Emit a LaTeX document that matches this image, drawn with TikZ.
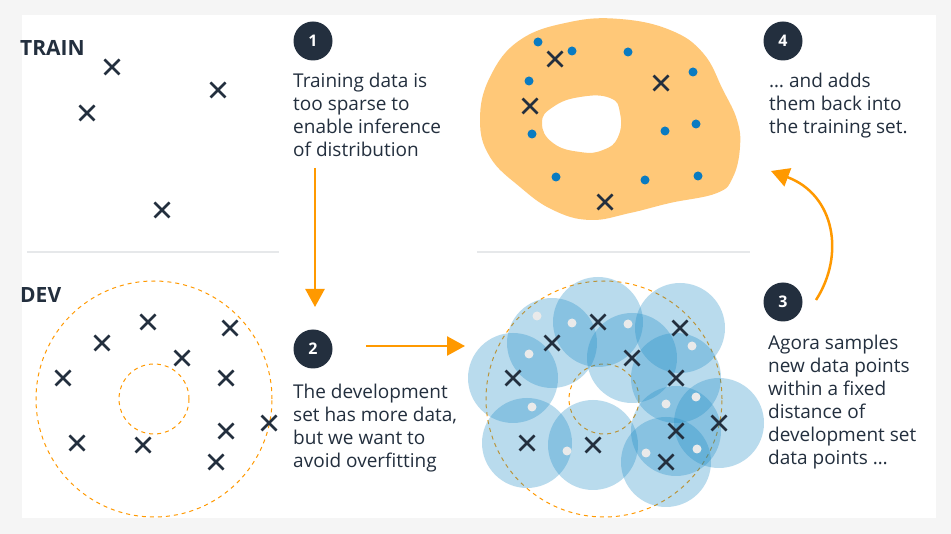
\documentclass[tikz,border=0pt]{standalone}
\usepackage{fontspec}
\setmainfont{Open Sans}
\usetikzlibrary{arrows.meta,shapes.misc}
\definecolor{navy}{HTML}{232F3E}
\definecolor{amber}{HTML}{FF9900}
\definecolor{sand}{HTML}{FFC878}
\definecolor{sky}{HTML}{1A8AC6}
\definecolor{dotblue}{HTML}{0A7BC1}
\definecolor{pale}{HTML}{EAEAEA}
\definecolor{rulegray}{HTML}{E6E8EA}
\definecolor{framegray}{HTML}{F5F5F5}

\tikzset{
  xmark/.style={cross out,draw=navy,line width=2.5pt,minimum size=12.5pt,inner sep=0pt},
  stepnum/.style={circle,fill=navy,text=white,minimum size=39pt,inner sep=0pt,
    font=\bfseries\fontsize{16}{16}\selectfont},
  blurb/.style={align=left,anchor=north west,inner sep=0pt,text=navy,
    font=\fontsize{19}{23}\selectfont},
  setname/.style={anchor=west,inner sep=0pt,text=navy,font=\bfseries\fontsize{21}{21}\selectfont},
  flow/.style={draw=amber,line width=2.5pt,-{Triangle[length=18pt,width=19pt]}},
  reach/.style={draw=amber,line width=1pt,dash pattern=on 4pt off 4pt},
  divider/.style={draw=rulegray,line width=2pt}
}

\begin{document}
\begin{tikzpicture}[x=1pt,y=-1pt]
    % frame
    \fill[framegray] (0,0) rectangle (951,534);
    \fill[white] (22,15) rectangle (936,518);
    \draw[divider] (27,252) -- (279,252);
    \draw[divider] (477,252) -- (750,252);

    % train set
    \node[setname] (train) at (20,48) {TRAIN};
    \foreach \x/\y [count=\i] in {112/67, 218/90, 87/113, 162/210}
        \node[xmark] (t\i) at (\x,\y) {};

    % dev set
    \node[setname] (dev) at (20,295) {DEV};
    \draw[reach] (154,399) circle (118pt);
    \draw[reach] (154,399) circle (35pt);
    \foreach \x/\y [count=\i] in {148/322, 230/328, 102/343, 182/358, 63/378, 226/378,
                                  269/423, 226/431, 77/443, 143/445, 216/462}
        \node[xmark] (d\i) at (\x,\y) {};

    % sampled neighbourhoods
    \draw[reach] (604,399) circle (118pt);
    \draw[reach] (604,399) circle (35pt);
    \foreach \x/\y in {148/322, 230/328, 102/343, 182/358, 63/378, 226/378,
                       269/423, 226/431, 77/443, 143/445, 216/462}
        \fill[sky,fill opacity=0.3] (\x+450,\y) circle (45pt);
    \foreach \x/\y in {537/316, 572/323, 628/324, 529/354, 692/346, 532/407,
                       666/404, 696/397, 567/451, 646/453, 697/449}
        \fill[pale] (\x,\y) circle (4.5pt);
    \foreach \x/\y [count=\i] in {148/322, 230/328, 102/343, 182/358, 63/378, 226/378,
                                  269/423, 226/431, 77/443, 143/445, 216/462}
        \node[xmark] (s\i) at (\x+450,\y) {};

    % augmented train set
    \fill[sand,even odd rule]
        plot[smooth cycle,tension=0.7] coordinates {(480,120) (490,77) (520,40) (570,22)
            (620,19) (670,30) (703,53) (723,90) (737,120) (740,147) (733,177) (717,193)
            (670,203) (630,213) (590,220) (553,210) (520,187) (490,157)}
        plot[smooth cycle,tension=0.8] coordinates {(542,123) (553,107) (580,97) (610,98)
            (620,113) (618,137) (603,150) (580,152) (553,143)};
    \foreach \x/\y in {538/42, 572/51, 628/52, 693/72, 529/81, 696/124, 665/131,
                       532/134, 556/177, 645/180, 698/176}
        \fill[dotblue] (\x,\y) circle (4.5pt);
    \foreach \x/\y [count=\i] in {555/59, 661/83, 530/106, 605/202}
        \node[xmark] (a\i) at (\x,\y) {};

    % steps
    \node[stepnum] (one) at (313,41) {1};
    \node[blurb] (onetext) at (293,73) {Training data is\\too sparse to\\enable inference\\of distribution};
    \node[stepnum] (two) at (313,349) {2};
    \node[blurb] (twotext) at (293,384) {The development\\set has more data,\\but we want to\\avoid overfitting};
    \node[stepnum] (three) at (783,302) {3};
    \node[blurb] (threetext) at (768,335) {Agora samples\\new data points\\within a fixed\\distance of\\development set\\data points …};
    \node[stepnum] (four) at (783,41) {4};
    \node[blurb] (fourtext) at (769,73) {… and adds\\them back into\\the training set.};

    % arrows
    \coordinate (down0) at (315,168);
    \coordinate (down1) at (315,307);
    \coordinate (right0) at (366,346);
    \coordinate (right1) at (465,346);
    \coordinate (up0) at (816,300);
    \coordinate (up1) at (771,171);
    \draw[flow] (down0) -- (down1);
    \draw[flow] (right0) -- (right1);
    \draw[flow] (up0) .. controls (845,255) and (835,195) .. (up1);
\end{tikzpicture}
\end{document}
